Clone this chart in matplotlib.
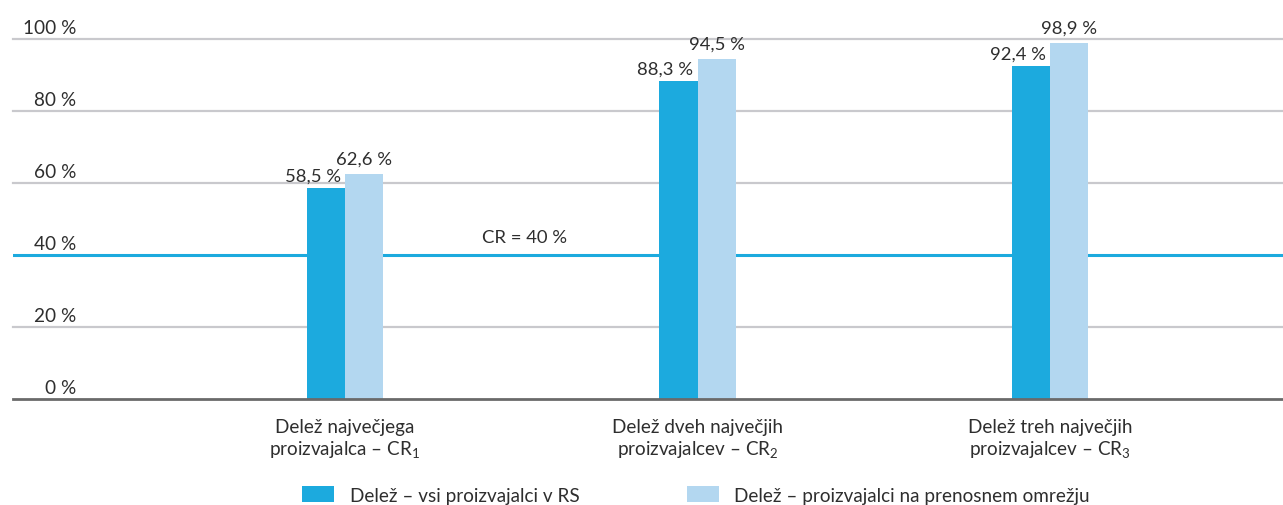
import matplotlib
matplotlib.use("Agg")
import matplotlib.pyplot as plt
import matplotlib.transforms as mtransforms
from matplotlib.patches import Patch

# ---- data ----
categories = ["Delež največjega\nproizvajalca – CR$_1$",
              "Delež dveh največjih\nproizvajalcev – CR$_2$",
              "Delež treh največjih\nproizvajalcev – CR$_3$"]
all_rs = [58.5, 88.3, 92.4]
transmission = [62.6, 94.5, 98.9]
series_names = ["Delež – vsi proizvajalci v RS",
                "Delež – proizvajalci na prenosnem omrežju"]
y_ticks = [0, 20, 40, 60, 80, 100]
cr_threshold = 40
cr_label = "CR = 40 %"

# ---- style ----
plt.rcParams['font.family'] = ['Lato', 'DejaVu Sans']
plt.rcParams['mathtext.fontset'] = 'custom'
plt.rcParams['mathtext.rm'] = 'Lato'
plt.rcParams['mathtext.it'] = 'Lato'
plt.rcParams['mathtext.default'] = 'regular'

TEXT = '#2e2e2e'
DARK = '#1caade'
LIGHT = '#b3d7f0'
GRID = '#c9c9cd'

W, H = 1283, 506
fig = plt.figure(figsize=(W / 100, H / 100), dpi=100)
ax = fig.add_axes([13 / W, 106 / H, 1270 / W, 360 / H])

x = list(range(len(categories)))
bw = 0.108
ax.set_xlim(-0.942, 2.661)
ax.set_ylim(0, 100)

ax.bar([xi - bw / 2 for xi in x], all_rs, width=bw, color=DARK, zorder=3)
ax.bar([xi + bw / 2 for xi in x], transmission, width=bw, color=LIGHT, zorder=3)

# grid
ax.set_yticks(y_ticks)
for v in y_ticks:
    if v in (0, cr_threshold):
        continue
    ax.axhline(v, color=GRID, lw=1.6, zorder=1, clip_on=False)
ax.axhline(cr_threshold, color=DARK, lw=2.2, zorder=2)
ax.tick_params(left=False, labelleft=False, bottom=False)
for s in ['top', 'right', 'left']:
    ax.spines[s].set_visible(False)
ax.spines['bottom'].set_color('#6a6a6a')
ax.spines['bottom'].set_linewidth(2)
ax.spines['bottom'].set_zorder(4)

# y labels above gridlines
trans = mtransforms.blended_transform_factory(ax.transAxes, ax.transData)
for v in y_ticks:
    ax.annotate(f"{v} %", xy=(0.0496, v), xycoords=trans,
                xytext=(0, 4.5), textcoords='offset points',
                ha='right', va='baseline', fontsize=13.7, color=TEXT)

# value labels
def fmt(v):
    return f"{v:.1f} %".replace('.', ',')

for xi, a, b in zip(x, all_rs, transmission):
    ax.annotate(fmt(a), xy=(xi, a), xytext=(-3, 5.5), textcoords='offset points',
                ha='right', va='baseline', fontsize=13.3, color=TEXT)
    ax.annotate(fmt(b), xy=(xi + bw / 2, b), xytext=(0, 7.5), textcoords='offset points',
                ha='center', va='baseline', fontsize=13.3, color=TEXT)

ax.annotate(cr_label, xy=(0.51, cr_threshold), xytext=(0, 9.5), textcoords='offset points',
            ha='center', va='baseline', fontsize=13.3, color=TEXT)

# category labels
ax.set_xticks(x)
ax.set_xticklabels(categories, fontsize=13.6, color=TEXT, linespacing=1.2)
ax.tick_params(axis='x', pad=10)

# legend
handles = [Patch(facecolor=DARK, edgecolor='none'), Patch(facecolor=LIGHT, edgecolor='none')]
fig.legend(handles, series_names, loc='center', bbox_to_anchor=(696 / W, 10 / H),
           ncol=2, frameon=False, fontsize=13.6, labelcolor=TEXT,
           handlelength=1.7, handleheight=0.9, handletextpad=0.8, columnspacing=5.7,
           borderaxespad=0, borderpad=0)

fig.savefig("out.png", dpi=100)
